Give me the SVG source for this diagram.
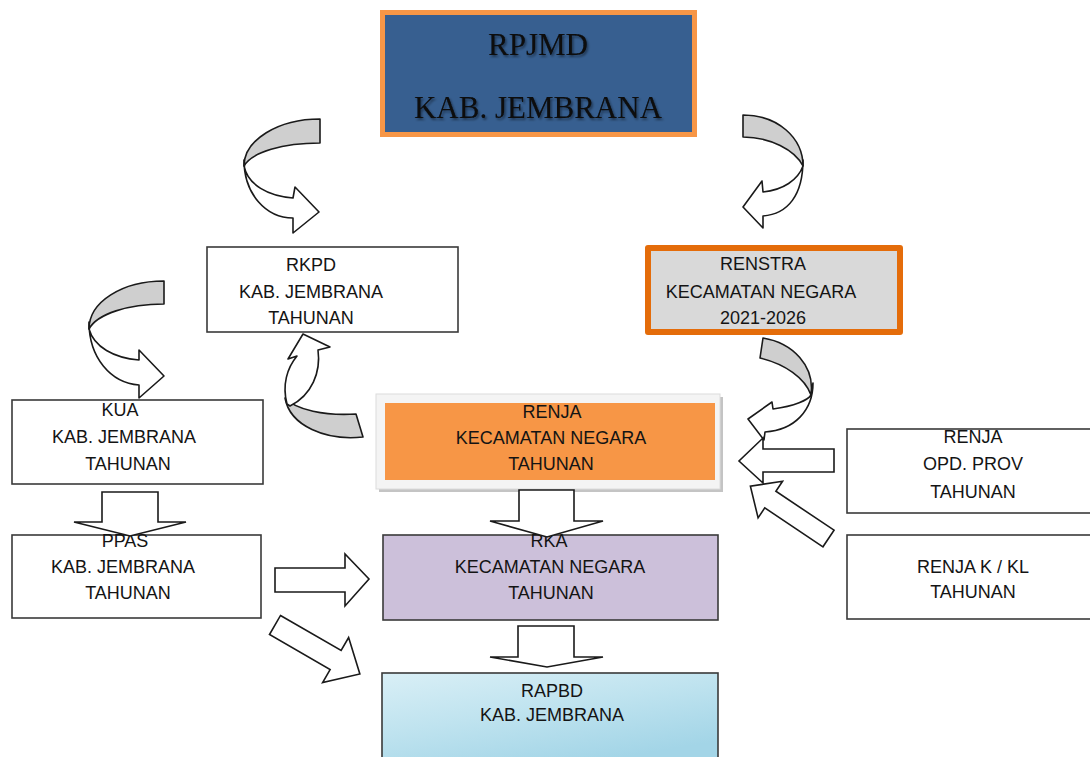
<svg xmlns="http://www.w3.org/2000/svg" width="1090" height="757" viewBox="0 0 1090 757">
<defs>
<style>
.t{font-family:"Liberation Sans",Arial,sans-serif;font-size:18px;fill:#141414;text-anchor:middle}
.ts{font-family:"Liberation Serif","Times New Roman",serif;font-size:31px;fill:#0a0a0a;text-anchor:middle}
.box{fill:#fff;stroke:#3a3a3a;stroke-width:1.6}
.arr{fill:#fff;stroke:#1a1a1a;stroke-width:1.6;stroke-linejoin:miter}
.back{fill:#cfcfcf;stroke:#1a1a1a;stroke-width:1.6;stroke-linejoin:round}
.front{fill:#fff;stroke:#1a1a1a;stroke-width:1.6;stroke-linejoin:round}
</style>
<linearGradient id="blue" x1="0" y1="0" x2="0.6" y2="1">
<stop offset="0" stop-color="#d9eff6"/>
<stop offset="0.5" stop-color="#bfe3ef"/>
<stop offset="1" stop-color="#a3d5e7"/>
</linearGradient>
<filter id="sh" x="-10%" y="-20%" width="120%" height="150%">
<feDropShadow dx="1.5" dy="2" stdDeviation="1.2" flood-color="#000" flood-opacity="0.45"/>
</filter>
</defs>
<rect width="1090" height="757" fill="#fff"/>

<g id="rpjmd">
<rect x="382.5" y="12.5" width="312" height="122" fill="#375f90" stroke="#f79646" stroke-width="5"/>
<text class="ts" x="538" y="55" filter="url(#sh)">RPJMD</text>
<text class="ts" x="538" y="118" filter="url(#sh)">KAB. JEMBRANA</text>
</g>

<g id="rkpd">
<rect class="box" x="207" y="247" width="251" height="85"/>
<text class="t" x="311" y="271">RKPD</text>
<text class="t" x="311" y="298">KAB. JEMBRANA</text>
<text class="t" x="311" y="324">TAHUNAN</text>
</g>

<g id="renstra">
<rect x="648" y="248" width="252" height="84" fill="#d9d9d9" stroke="#e46c0a" stroke-width="6" stroke-linejoin="round"/>
<text class="t" x="763" y="270">RENSTRA</text>
<text class="t" x="761" y="298">KECAMATAN NEGARA</text>
<text class="t" x="763" y="324">2021-2026</text>
</g>

<g id="kua">
<rect class="box" x="12" y="400" width="251" height="84"/>
<text class="t" x="120" y="416">KUA</text>
<text class="t" x="124" y="443">KAB. JEMBRANA</text>
<text class="t" x="128" y="470">TAHUNAN</text>
</g>

<g id="renja">
<rect x="379" y="397" width="344" height="95" fill="#c4c4c4"/>
<rect x="376" y="394" width="344" height="95" fill="#f4f4f4" stroke="#dcdcdc" stroke-width="1"/>
<rect x="385" y="403" width="330" height="77" fill="#f79646"/>
<text class="t" x="552" y="418">RENJA</text>
<text class="t" x="551" y="444">KECAMATAN NEGARA</text>
<text class="t" x="551" y="470">TAHUNAN</text>
</g>

<g id="renja-opd">
<rect class="box" x="847" y="429" width="250" height="84"/>
<text class="t" x="973" y="443">RENJA</text>
<text class="t" x="973" y="470">OPD. PROV</text>
<text class="t" x="973" y="498">TAHUNAN</text>
</g>

<g id="ppas">
<rect class="box" x="12" y="535" width="249" height="83"/>
<text class="t" x="125" y="547">PPAS</text>
<text class="t" x="123" y="573">KAB. JEMBRANA</text>
<text class="t" x="128" y="599">TAHUNAN</text>
</g>

<g id="rka">
<rect x="383" y="535" width="335" height="85" fill="#ccc0da" stroke="#3a3a3a" stroke-width="1.6"/>
<text class="t" x="549" y="547">RKA</text>
<text class="t" x="550" y="573">KECAMATAN NEGARA</text>
<text class="t" x="551" y="599">TAHUNAN</text>
</g>

<g id="renja-kkl">
<rect class="box" x="847" y="535" width="250" height="84"/>
<text class="t" x="973" y="573">RENJA K / KL</text>
<text class="t" x="973" y="598">TAHUNAN</text>
</g>

<g id="rapbd">
<rect x="382" y="673" width="336" height="90" fill="url(#blue)" stroke="#3a3a3a" stroke-width="1.6"/>
<text class="t" x="552" y="697">RAPBD</text>
<text class="t" x="552" y="721">KAB. JEMBRANA</text>
</g>

<g id="connectors">
<!-- curved: RPJMD -> RKPD -->
<path class="back" d="M320,119 C278,119 244,140 244,166 C252,152 283,143 320,143 Z"/>
<path class="front" d="M244,160 C244,194 266,218 293,218 L293,233 L319,212 L295,187 L293,198 C268,196 248,185 244,166 Z"/>
<!-- curved: RPJMD -> RENSTRA -->
<path class="back" d="M743,115 C778,115 803,138 803,166 C795,150 770,137 743,137 Z"/>
<path class="front" d="M803,160 C803,195 788,214 763,216 L763,228 L743,207 L762,181 L763,192 C783,190 798,180 803,166 Z"/>
<!-- curved: RKPD -> KUA -->
<path class="back" d="M164,281 C122,281 89,302 89,329 C97,314 128,304 164,304 Z"/>
<path class="front" d="M89,322 C89,358 111,383 139,385 L139,398 L164,376 L139,350 L139,360 C114,358 94,347 89,329 Z"/>
<!-- curved: RENJA -> RKPD -->
<path class="back" d="M356,414 L363,437 C326,441 290,426 285,398 C296,410 325,416 356,414 Z"/>
<path class="front" d="M287,404 C282,385 287,368 297,356 L288,359 L303,334 L330,347 L318,350 C321,372 312,395 290,406 Z"/>
<!-- curved: RENSTRA -> RENJA -->
<path class="back" d="M763,338 L760,358 C785,364 805,378 811,395 C815,366 793,343 763,338 Z"/>
<path class="front" d="M813,383 C813,410 795,430 765,432 L764,440 L748,419 L772,402 L773,409 C795,406 808,400 811,395 Z"/>
<!-- block arrows -->
<path class="arr" d="M519,490 L574,490 L574,521 L603,521 L547,537 L490,521 L519,521 Z"/>
<path class="arr" d="M518,626 L574,626 L574,657 L603,657 L547,667 L490,657 L518,657 Z"/>
<path class="arr" d="M102,492 L158,492 L158,522 L186,522 L130,536 L74,522 L102,522 Z"/>
<path class="arr" d="M275,568 L345,568 L345,554 L369,579 L345,606 L345,592 L275,592 Z"/>
<path class="arr" transform="translate(275,625) rotate(30)" d="M0,-11 L70,-11 L70,-26 L98,0 L70,26 L70,11 L0,11 Z"/>
<path class="arr" d="M834,449 L763,449 L763,438 L739,461 L763,483 L763,472 L834,472 Z"/>
<path class="arr" transform="translate(828.5,538.5) rotate(213.8)" d="M0,-10 L70,-10 L70,-22 L94,0 L70,22 L70,10 L0,10 Z"/>
</g>
</svg>
